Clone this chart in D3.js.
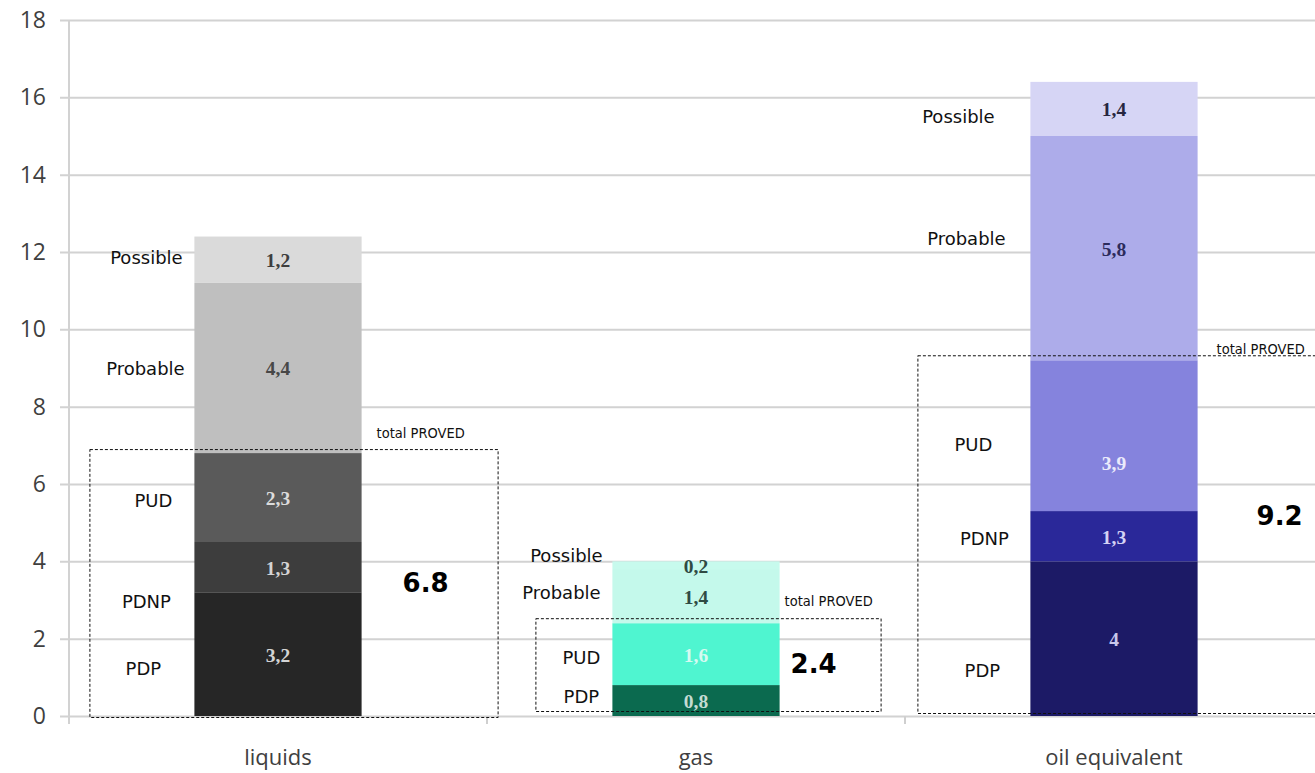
<!DOCTYPE html>
<html>
<head>
<meta charset="utf-8">
<script src="https://cdn.jsdelivr.net/npm/d3@7/dist/d3.min.js"></script>
<style>
  html, body { margin: 0; padding: 0; background: #fff; }
  svg { display: block; }
</style>
</head>
<body>
<svg id="chart" width="1315" height="773"></svg>
<script>
// Reserves by category, stacked from proved developed upwards (bn boe)
const categories = ["liquids", "gas", "oil equivalent"];
const seriesNames = ["PDP", "PDNP", "PUD", "Probable", "Possible"];
const pdp      = [3.2, 0.8, 4];
const pdnp     = [1.3, 0,   1.3];
const pud      = [2.3, 1.6, 3.9];
const probable = [4.4, 1.4, 5.8];
const possible = [1.2, 0.2, 1.4];
const provedTotals = [6.8, 2.4, 9.2];
const yTickValues = [0, 2, 4, 6, 8, 10, 12, 14, 16, 18];

// Which series get a side caption next to each bar
const sideCaptions = [
  ["Possible", "Probable", "PUD", "PDNP", "PDP"],
  ["Possible", "Probable", "PUD", "PDP"],
  ["Possible", "Probable", "PUD", "PDNP", "PDP"]
];

// ---- styling ----
const fills = {
  "liquids":        { PDP: "#262626", PDNP: "#3d3d3d", PUD: "#5a5a5a", Probable: "#bfbfbf", Possible: "#dadada" },
  "gas":            { PDP: "#0b6a4f", PDNP: "#0b6a4f", PUD: "#4ff5d0", Probable: "#c4f9eb", Possible: "#c7faed" },
  "oil equivalent": { PDP: "#1c1a66", PDNP: "#2a2899", PUD: "#8583dd", Probable: "#adacea", Possible: "#d6d5f5" }
};
const textFills = {
  "liquids":        { PDP: "#d4d4d4", PDNP: "#d4d4d4", PUD: "#dcdcdc", Probable: "#474747", Possible: "#3e3e3e" },
  "gas":            { PDP: "#c3dcd3", PDNP: "#c3dcd3", PUD: "#d6faf1", Probable: "#2f4a43", Possible: "#2f4a43" },
  "oil equivalent": { PDP: "#c9c8ec", PDNP: "#d4d3f4", PUD: "#ebebfb", Probable: "#2c2b5c", Possible: "#27263f" }
};

// Hand-placed annotation layout (value-space y, pixel offset from bar edge)
const captionPos = [
  { Possible: [11.82, -48], Probable: [8.95, -49], PUD: [5.53, -41], PDNP: [2.92, -48], PDP: [1.19, -51] },
  { Possible: [4.11, -46],  Probable: [3.15, -51], PUD: [1.47, -31], PDP: [0.47, -31] },
  { Possible: [15.46, -72], Probable: [12.32, -64], PUD: [6.99, -57], PDNP: [4.54, -46], PDP: [1.14, -48] }
];
const boxLayout = [
  { left: -105, right: 136, top: -4, bottom: 1 },
  { left: -77,  right: 101, top: -5, bottom: -5 },
  { left: -113, right: 140, top: -5, bottom: -3 }
];
const provedTagLayout = [ { dx: 15, dy: -15 }, { dx: 5, dy: -17 }, { dx: 19, dy: -6 } ];
const totalLayout = [ { dx: 64, v: 3.2 }, { dx: 34, v: 1.11 }, { dx: 82, v: 4.94 } ];
const valueLabelShift = { "oil equivalent|PUD": 27 };

const svg = d3.select("#chart");
const W = 1315, H = 773;

const x = d3.scaleBand().domain(categories).range([69, 1323]).padding(0);
const y = d3.scaleLinear().domain([0, 18]).range([716, 20]);
const barW = x.bandwidth() * 0.4;
const barLeft = c => x(c) + (x.bandwidth() - barW) / 2;

// gridlines + y tick labels
const yAxis = d3.axisLeft(y).tickValues(yTickValues).tickSize(-(W - 60)).tickPadding(14);
const gy = svg.append("g").attr("transform", "translate(60,0)").call(yAxis);
gy.select(".domain").remove();
gy.selectAll(".tick line").attr("stroke", "#d2d2d2").attr("stroke-width", 2);
gy.selectAll(".tick text")
  .attr("fill", "#3f3f3f")
  .attr("font-family", "'Open Sans', sans-serif")
  .attr("font-size", 23)
  .attr("x", -14);

// vertical axis line
svg.append("line")
  .attr("x1", 69).attr("x2", 69)
  .attr("y1", y(18)).attr("y2", y(0) + 8)
  .attr("stroke", "#d2d2d2").attr("stroke-width", 2);

// category axis
const xAxis = d3.axisBottom(x).tickSize(0).tickPadding(33);
const gx = svg.append("g").attr("transform", `translate(0,${y(0)})`).call(xAxis);
gx.select(".domain").remove();
gx.selectAll(".tick text")
  .attr("fill", "#404040")
  .attr("font-family", "'Open Sans', sans-serif")
  .attr("font-size", 22);
// boundary ticks between categories
svg.append("g").selectAll("line")
  .data(categories.slice(1))
  .join("line")
  .attr("x1", d => x(d)).attr("x2", d => x(d))
  .attr("y1", y(0)).attr("y2", y(0) + 8)
  .attr("stroke", "#cfcfcf").attr("stroke-width", 2);

// stacked data
const rows = categories.map((c, i) => ({
  category: c, PDP: pdp[i], PDNP: pdnp[i], PUD: pud[i], Probable: probable[i], Possible: possible[i]
}));
const stacked = d3.stack().keys(seriesNames)(rows);

const segs = [];
stacked.forEach(layer => {
  layer.forEach(d => {
    const v = d.data[layer.key];
    if (v > 0) segs.push({ key: layer.key, category: d.data.category, y0: d[0], y1: d[1], value: v });
  });
});

const gBars = svg.append("g");
gBars.selectAll("rect")
  .data(segs)
  .join("rect")
  .attr("x", d => barLeft(d.category))
  .attr("width", barW)
  .attr("y", d => y(d.y1))
  .attr("height", d => y(d.y0) - y(d.y1))
  .attr("fill", d => fills[d.category][d.key]);

// value labels inside segments (decimal comma)
const fmt = v => String(v).replace(".", ",");
gBars.selectAll("text")
  .data(segs)
  .join("text")
  .attr("x", d => barLeft(d.category) + barW / 2)
  .attr("y", d => (y(d.y0) + y(d.y1)) / 2 + 3 + (valueLabelShift[d.category + "|" + d.key] || 0))
  .attr("text-anchor", "middle")
  .attr("dominant-baseline", "middle")
  .attr("font-family", "'Liberation Serif', 'DejaVu Serif', serif")
  .attr("font-weight", "bold")
  .attr("font-size", 19.5)
  .attr("fill", d => textFills[d.category][d.key])
  .text(d => fmt(d.value));

// side captions
const caps = [];
categories.forEach((c, i) => {
  sideCaptions[i].forEach(k => caps.push({ category: c, key: k, pos: captionPos[i][k] }));
});
svg.append("g").selectAll("text")
  .data(caps)
  .join("text")
  .attr("x", d => barLeft(d.category) + d.pos[1])
  .attr("y", d => y(d.pos[0]))
  .attr("text-anchor", "middle")
  .attr("dominant-baseline", "middle")
  .attr("font-family", "'DejaVu Sans', Verdana, sans-serif")
  .attr("font-size", 18)
  .attr("fill", "#111")
  .text(d => d.key);

// dashed "total proved" frames
const gAnn = svg.append("g");
categories.forEach((c, i) => {
  const L = boxLayout[i];
  const x0 = barLeft(c) + L.left;
  const x1 = barLeft(c) + barW + L.right;
  const yt = y(provedTotals[i]) + L.top;
  const yb = y(0) + L.bottom;
  gAnn.append("rect")
    .attr("x", x0 + 0.5).attr("y", yt + 0.5)
    .attr("width", x1 - x0).attr("height", yb - yt)
    .attr("fill", "none")
    .attr("stroke", "#111")
    .attr("stroke-width", 1)
    .attr("stroke-dasharray", "3,2");

  gAnn.append("text")
    .attr("x", barLeft(c) + barW + provedTagLayout[i].dx)
    .attr("y", y(provedTotals[i]) + provedTagLayout[i].dy)
    .attr("font-family", "'DejaVu Sans Condensed', 'DejaVu Sans', sans-serif")
    .attr("font-stretch", "condensed")
    .attr("font-size", 14.5)
    .attr("fill", "#111")
    .text("total PROVED");

  gAnn.append("text")
    .attr("x", barLeft(c) + barW + totalLayout[i].dx)
    .attr("y", y(totalLayout[i].v))
    .attr("text-anchor", "middle")
    .attr("font-family", "'DejaVu Sans', sans-serif")
    .attr("font-weight", "bold")
    .attr("font-size", 26)
    .attr("fill", "#000")
    .text(provedTotals[i].toFixed(1));
});
</script>
</body>
</html>
